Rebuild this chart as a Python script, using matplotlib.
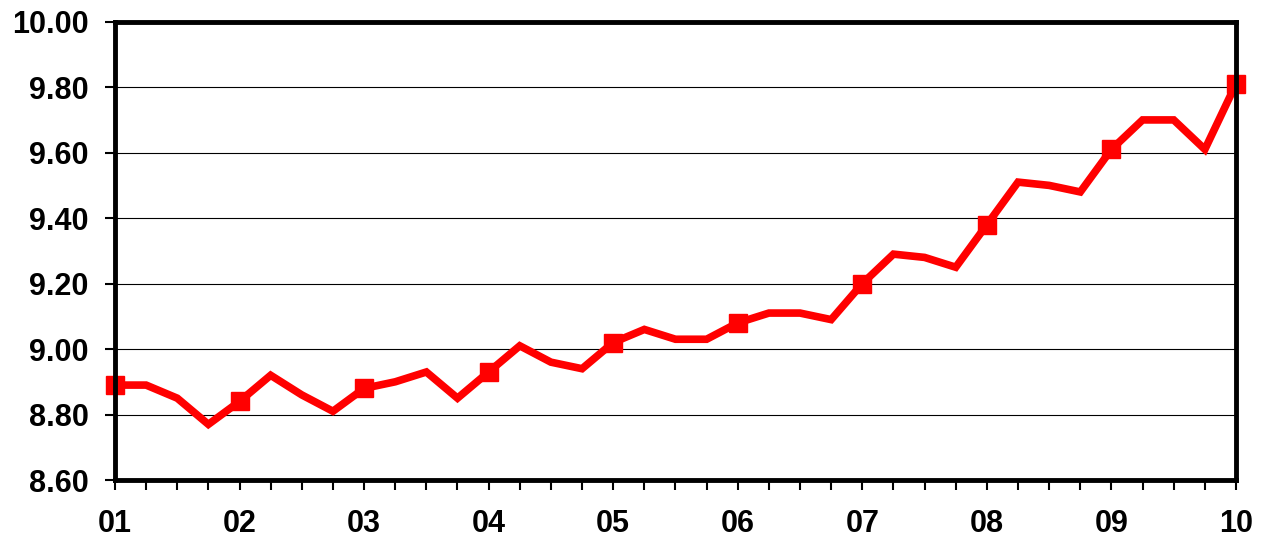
import numpy as np
import matplotlib.pyplot as plt
from matplotlib.ticker import MultipleLocator

plt.rcParams['font.family'] = ['Liberation Sans', 'DejaVu Sans']

# quarterly values, 2001 Q1 .. 2010 Q1
values = [8.89, 8.89, 8.85, 8.77,
          8.84, 8.92, 8.86, 8.81,
          8.88, 8.90, 8.93, 8.85,
          8.93, 9.01, 8.96, 8.94,
          9.02, 9.06, 9.03, 9.03,
          9.08, 9.11, 9.11, 9.09,
          9.20, 9.29, 9.28, 9.25,
          9.38, 9.51, 9.50, 9.48,
          9.61, 9.70, 9.70, 9.61,
          9.81]
year_labels = ['01', '02', '03', '04', '05', '06', '07', '08', '09', '10']
y_ticks = [8.60, 8.80, 9.00, 9.20, 9.40, 9.60, 9.80, 10.00]

x = np.arange(len(values)) / 4.0
years = np.arange(len(year_labels))

fig = plt.figure(figsize=(12.66, 5.43), dpi=100)
ax = fig.add_axes([0.0908, 0.116, 0.8855, 0.844])

ax.plot(x, values, color='#ff0000', lw=5.5, solid_joinstyle='miter', zorder=3, clip_on=False)
ax.plot(x[::4], values[::4], ls='none', marker='s', ms=12.5, color='#ff0000', zorder=4, clip_on=False)

ax.set_xlim(0, 9)
ax.set_ylim(8.6, 10.0)
ax.set_yticks(y_ticks)
ax.set_yticklabels(['%.2f' % v for v in y_ticks], fontsize=22, fontweight='bold')
ax.set_xticks(years)
ax.set_xticklabels(year_labels, fontsize=22, fontweight='bold')
ax.xaxis.set_minor_locator(MultipleLocator(0.25))

ax.grid(axis='y', color='black', lw=0.8, zorder=1)
for s in ax.spines.values():
    s.set_linewidth(3.5)
    s.set_zorder(5)

ax.tick_params(axis='y', direction='out', length=7, width=1.5, pad=12)
ax.tick_params(axis='x', which='both', direction='out', length=7, width=1.5, pad=14)

fig.savefig('out.png', dpi=100)
